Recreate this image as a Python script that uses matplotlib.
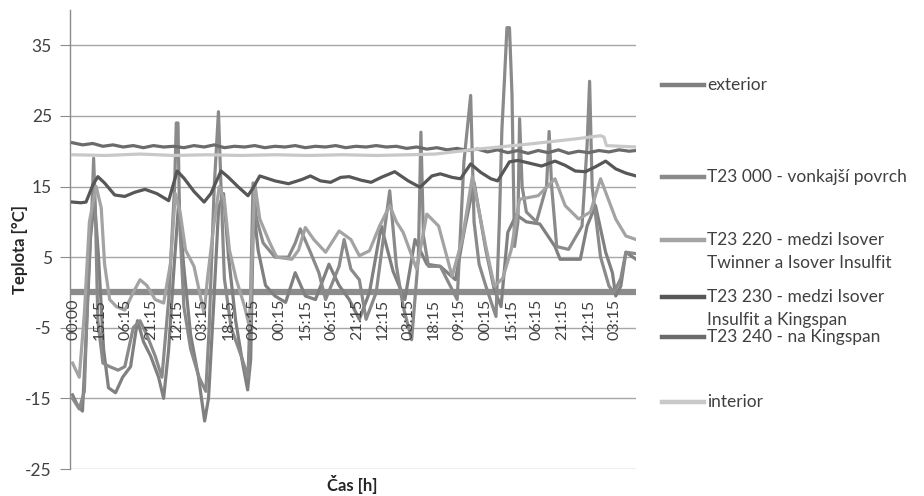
import matplotlib
matplotlib.use("Agg")
import matplotlib.pyplot as plt
from matplotlib.lines import Line2D

plt.rcParams['font.family'] = ['Lato', 'DejaVu Sans']
plt.rcParams['axes.unicode_minus'] = False

# ---------------- data (hours from start, temperature °C) ----------------
tick_labels = ["00:00", "15:15", "06:15", "21:15", "12:15", "03:15", "18:15", "09:15",
               "00:15", "15:15", "06:15", "21:15", "12:15", "03:15", "18:15", "09:15",
               "00:15", "15:15", "06:15", "21:15", "12:15", "03:15"]
tick_hours = [0, 15.25, 30.5, 45.75, 61, 76.25, 91.5, 106.75, 122, 137.25, 152.5,
              167.75, 183, 198.25, 213.5, 228.75, 244, 259.25, 274.5, 289.75, 305, 320.25]

ext_h = [0, 3, 5.9, 8.3, 10.7, 13, 15.4, 18.4, 21.3, 25.5, 29.7, 34.4, 38.5, 42.1, 46.3, 51, 54,
         57, 60, 63, 65.8, 70, 74.7, 78.3, 80.6, 83.6, 86.6, 89.5, 92.5, 96.7, 100.8, 103.8, 105.6,
         107.3, 110, 114.4, 120, 126.3, 132, 138, 144, 152, 158, 164, 170, 176, 183, 190, 197, 203,
         210, 218, 227, 232, 238, 245, 250, 254, 258, 263, 269, 277, 286, 289, 301, 305, 310, 316,
         320, 322, 325, 328, 334]
ext_v = [-14.5, -16, -16.8, -5, 8, 13, 5, -8, -13.5, -14.2, -12, -10.5, -4, -7, -9, -12, -15,
         -8, 3, 13, 4, -6, -12, -18.2, -15, -2, 12, 14, 5, -4, -10, -13.8, -9.5,
         12, 6, 1, -0.5, -1.4, 2.8, -0.5, -1, 4, 1, -1, -3.8, 0, 9.4, 3, -1, 7.5,
         4, 3.7, 1.8, 8.5, 15.6, 6, 0.4, -2, 8.5, 11, 10, 9.7, 6.5, 4.7, 4.7, 9.4, 12.3, 5.7,
         2.8, -0.5, 0.9, 5.7, 4.7]

t000_h = [0, 4, 7, 9, 11.5, 12.5, 13.5, 15, 18, 22, 27, 31, 36, 40, 44, 49, 53, 57, 60.5, 61.5,
          62.5, 63.5, 66, 70, 75, 79, 81, 84, 86.5, 88, 90, 94, 100, 104, 105.5, 107, 109, 113,
          120, 128, 132, 135, 141, 146, 150, 158, 161, 165, 170, 174, 180, 188, 192, 196, 201,
          205, 206.5, 208, 211, 218, 228, 232, 236, 238, 241, 245, 251, 253, 254.5, 256, 257.5,
          259, 260.5, 262, 264, 265, 266.5, 269, 275, 281, 282.5, 284, 287, 294, 302, 305,
          306.5, 308, 313, 318, 321, 325, 328, 334]
t000_v = [-15, -16.5, -14, 0, 12, 19, 12, -4, -10, -10.5, -11, -10.5, -5, -4, -6, -9, -12, -1, 15, 24,
          24, 10, -2, -8, -12, -14, -5, 15, 25.6, 15, 2, -5, -9, -12, -1, 15.5, 10.5, 7,
          5, 5, 7, 9, 5.7, 2.8, -1, 3.7, 7.5, 3.3, 1.8, -3.8, 0, 14.4, 3.7, -2, -6.7,
          5, 22.7, 8, 3.7, 3.7, -1, 18.5, 27.9, 10, 4, 0.9, -3.4, 10, 23, 30, 37.5,
          37.5, 28, 6.5, 10, 24.6, 15, 11.4, 10, 15.1, 22.8, 15, 6.5, 6.1, 9.4, 20.8,
          29.9, 15, 5, 0.9, 0, 2, 5.7, 5.5]

t220_h = [0, 4, 7, 10, 14, 17, 19, 22, 26, 31, 36, 40, 44, 49, 54, 58, 61, 64, 67, 72, 78, 80,
          84, 87, 90, 93, 97, 102, 105, 108, 111, 117, 121, 130, 134, 138, 143, 150, 158, 165,
          170, 176, 182, 188, 192, 196, 204, 210, 217, 225, 231, 237, 245, 250, 255, 260, 265,
          276, 286, 292, 300, 307, 313, 322, 328, 334]
t220_v = [-10, -12, -3, 10, 15, 12, 4, -1, -2, -2.5, 0, 1.8, 1, -1, -1.5, 4, 14, 11, 6, 3.7, -3, 2,
          10, 15, 13, 6, 1.9, -2, -5, 15.5, 10.4, 7, 5, 4.7, 6, 9.2, 7.5, 5.7, 8.7, 7.5,
          5.2, 5.9, 9.4, 12.3, 10, 8.5, 3.3, 11.1, 9.4, 2.3, 7.5, 16.4, 6.5, 0.9, 2, 6, 13.2,
          13.7, 16.1, 12.3, 10.4, 11.4, 16.1, 10.4, 8, 7.5]

t230_h = [0, 5, 8, 12, 15, 19, 25, 31, 37, 43, 50, 57, 62, 66, 72, 78, 82, 88, 92, 98, 104, 107,
          111, 120, 128, 136, 141, 147, 153, 159, 164, 171, 177, 183, 191, 199, 206, 213, 218,
          225, 230, 236, 242, 248, 252, 259, 264, 271, 278, 286, 292, 298, 304, 310, 316, 322,
          328, 334]
t230_v = [12.8, 12.7, 12.8, 15.2, 16.4, 15.5, 13.8, 13.6, 14.2, 14.6, 14.0, 13.0, 17.2, 16.2, 14.3,
          12.8, 14.0, 17.2, 16.4, 15.0, 13.7, 14.8, 16.5, 15.8, 15.4, 16.0, 16.5, 15.8, 15.6, 16.3,
          16.4, 15.9, 15.6, 16.3, 17.1, 15.8, 14.9, 16.5, 16.8, 16.3, 16.1, 18.2, 17.0, 16.1, 15.8,
          18.5, 18.7, 18.3, 17.9, 18.6, 18.0, 17.2, 17.1, 17.8, 18.6, 17.5, 16.9, 16.5]

t240_h = [0, 6, 12, 18, 24, 30, 36, 42, 48, 54, 60, 66, 72, 78, 84, 90, 96, 102, 108, 114, 120,
          126, 132, 138, 144, 150, 156, 162, 168, 174, 180, 186, 192, 198, 204, 210, 216, 222,
          228, 234, 240, 246, 252, 258, 264, 270, 276, 282, 288, 294, 300, 306, 312, 318, 324, 330,
          334]
t240_v = [21.2, 20.9, 21.1, 20.7, 20.9, 20.6, 20.8, 20.5, 20.8, 20.6, 20.7, 20.5, 20.8, 20.6, 20.9,
          20.5, 20.7, 20.6, 20.8, 20.5, 20.7, 20.6, 20.8, 20.5, 20.7, 20.6, 20.8, 20.5, 20.7, 20.6,
          20.8, 20.6, 20.7, 20.4, 20.6, 20.3, 20.5, 20.2, 20.4, 20.1, 20.3, 19.9, 20.2, 19.8, 20.1,
          19.7, 20.1, 19.8, 20.2, 19.7, 20.0, 19.8, 20.1, 19.9, 20.2, 20.0, 20.1]

int_h = [0, 20, 40, 60, 80, 100, 120, 140, 160, 180, 200, 215, 240, 270, 300, 313, 315, 316.5,
         325, 334]
int_v = [19.5, 19.4, 19.6, 19.4, 19.5, 19.4, 19.5, 19.4, 19.5, 19.4, 19.5, 19.6, 20.3, 21.0, 21.8,
         22.2, 22.0, 20.8, 20.7, 20.6]

names = ["exterior", "T23 000 - vonkajší povrch", "T23 220 - medzi Isover\nTwinner a Isover Insulfit",
         "T23 230 - medzi Isover\nInsulfit a Kingspan", "T23 240 - na Kingspan", "interior"]
colors = ["#808080", "#8a8a8a", "#a3a3a3", "#575757", "#6b6b6b", "#c8c8c8"]

# ---------------- figure ----------------
fig = plt.figure(figsize=(9.24, 4.96), dpi=100)
ax = fig.add_axes([70 / 924, 1 - 469 / 496, (636 - 70) / 924, (469 - 10) / 496])

ax.set_xlim(-1.5, 334)
ax.set_ylim(-25, 40)
ax.set_yticks([-25, -15, -5, 5, 15, 25, 35])
ax.yaxis.grid(True, color="#a6a6a6", lw=1.0)
ax.set_axisbelow(True)
for s in ["top", "right", "bottom"]:
    ax.spines[s].set_visible(False)
ax.spines["left"].set_color("#8c8c8c")
ax.spines["left"].set_linewidth(1.0)
ax.tick_params(axis="y", length=7, color="#8c8c8c", labelsize=12.5, labelcolor="#404040", pad=6)
ax.set_xticks([])

# horizontal category axis crossing at 0
ax.axhline(0, color="#8c8c8c", lw=4.5, zorder=1.5)

lw = 2.3
series = [(ext_h, ext_v), (t000_h, t000_v), (t220_h, t220_v), (t230_h, t230_v),
          (t240_h, t240_v), (int_h, int_v)]
order = [0, 1, 2, 5, 4, 3]
for i in order:
    h, v = series[i]
    ax.plot(h, v, color=colors[i], lw=lw, zorder=3 + i * 0.1, solid_joinstyle="round")

# category tick labels hanging below the zero line
for hr, lab in zip(tick_hours, tick_labels):
    ax.text(hr + 0.8, -0.9, lab, rotation=90, ha="center", va="top", fontsize=11.5,
            color="#404040", zorder=6)

ax.set_ylabel("Teplota [°C]", fontsize=12, fontweight="bold", color="#262626")
ax.yaxis.set_label_coords((28 - 70) / 566, (469 - 250) / 459)
fig.text(352 / 924, 1 - 485 / 496, "Čas [h]", ha="center", va="center", fontsize=12,
         fontweight="bold", color="#262626")

# legend (manual)
leg_y = [85, 177, 240, 297, 337, 402]
for i, (name, y) in enumerate(zip(names, leg_y)):
    yf = 1 - y / 496
    fig.add_artist(Line2D([662 / 924, 704 / 924], [yf, yf], color=colors[i], lw=3.2,
                          transform=fig.transFigure))
    fig.text(707 / 924, yf, name.split("\n")[0], ha="left", va="center", fontsize=12.5,
             color="#404040")
    if "\n" in name:
        fig.text(707 / 924, 1 - (y + 23) / 496, name.split("\n")[1], ha="left", va="center",
                 fontsize=12.5, color="#404040")

fig.savefig("out.png", dpi=100, facecolor="white")
